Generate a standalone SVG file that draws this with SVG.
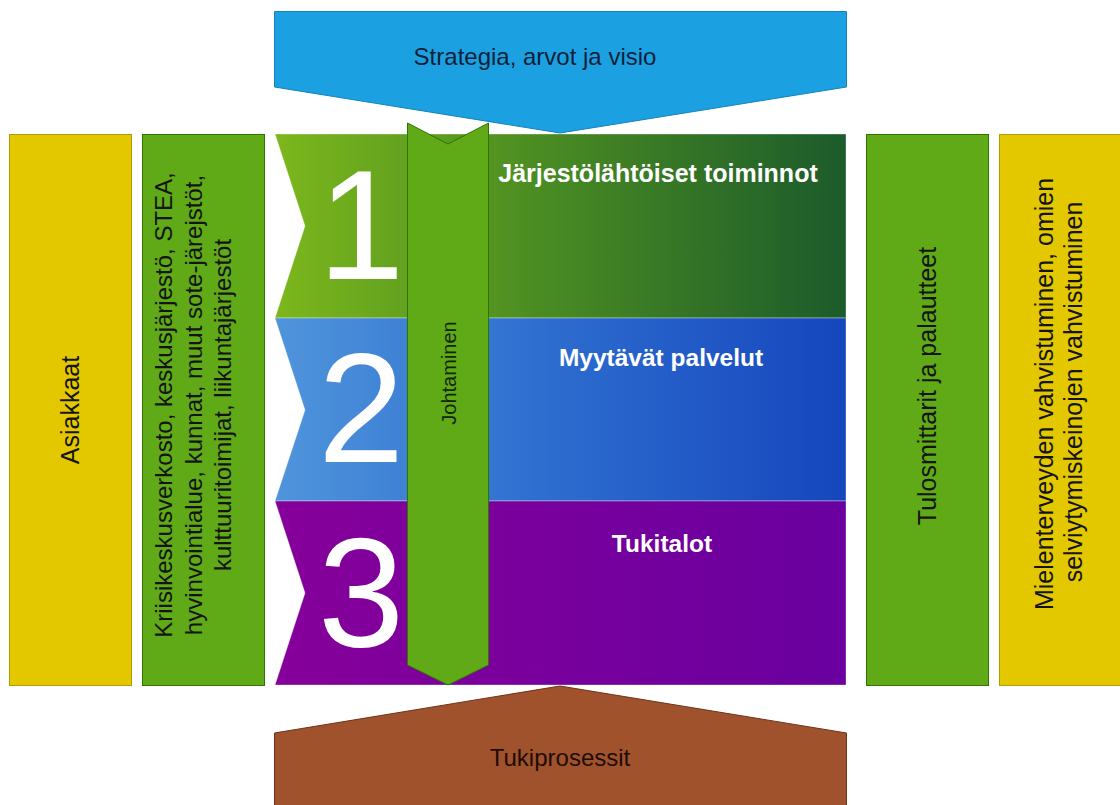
<svg xmlns="http://www.w3.org/2000/svg" width="1120" height="805" viewBox="0 0 1120 805">
  <defs>
    <linearGradient id="g1" x1="0" y1="0" x2="1" y2="0">
      <stop offset="0" stop-color="#7cb71c"/>
      <stop offset="0.45" stop-color="#4b8d22"/>
      <stop offset="1" stop-color="#1c5b2b"/>
    </linearGradient>
    <linearGradient id="g2" x1="0" y1="0" x2="1" y2="0">
      <stop offset="0" stop-color="#4f95db"/>
      <stop offset="0.45" stop-color="#2f6fd0"/>
      <stop offset="1" stop-color="#1546bd"/>
    </linearGradient>
    <linearGradient id="g3" x1="0" y1="0" x2="1" y2="0">
      <stop offset="0" stop-color="#86009a"/>
      <stop offset="1" stop-color="#69009f"/>
    </linearGradient>
    <style>
      .yel { fill: #e3c800; stroke: #b39b00; stroke-width: 1; }
      .grn { fill: #60a917; stroke: #2d7600; stroke-width: 1; }
      .band { stroke: #ffffff; stroke-opacity: 0.35; stroke-width: 1; }
      .lbl { font-family: "Liberation Sans", Arial, sans-serif; font-size: 25px; fill: #141414; text-anchor: middle; }
      .num { font-family: "Liberation Sans", Arial, sans-serif; font-size: 155px; fill: #ffffff; text-anchor: middle; }
      .title { font-family: "Liberation Sans", Arial, sans-serif; font-size: 24.5px; font-weight: bold; fill: #ffffff; text-anchor: middle; }
    </style>
  </defs>

  <rect width="1120" height="805" fill="#ffffff"/>

  <!-- left columns -->
  <g id="asiakkaat">
    <rect class="yel" x="9.5" y="134.5" width="122" height="551"/>
    <text class="lbl" transform="translate(79,410) rotate(-90)">Asiakkaat</text>
  </g>
  <g id="kumppanit">
    <rect class="grn" x="142.5" y="134.5" width="122" height="551"/>
    <text class="lbl" style="font-size:24px" transform="translate(172,405) rotate(-90)">Kriisikeskusverkosto, keskusjärjestö, STEA,</text>
    <text class="lbl" style="font-size:24px" transform="translate(202,405) rotate(-90)">hyvinvointialue, kunnat, muut sote-järejstöt,</text>
    <text class="lbl" style="font-size:24px" transform="translate(231,405) rotate(-90)">kulttuuritoimijat, liikuntajärjestöt</text>
  </g>

  <!-- central bands -->
  <g id="toiminnot">
    <polygon class="band" fill="url(#g1)" points="275,134 846,134 846,318 275,318 305,226"/>
    <text class="num" x="361" y="279">1</text>
    <text class="title" x="658" y="182" style="font-size:25px">Järjestölähtöiset toiminnot</text>
  </g>
  <g id="palvelut">
    <polygon class="band" fill="url(#g2)" points="275,318 846,318 846,501 275,501 305,410"/>
    <text class="num" x="361" y="462">2</text>
    <text class="title" x="661" y="366">Myytävät palvelut</text>
  </g>
  <g id="tukitalot">
    <polygon class="band" fill="url(#g3)" points="275,501 846,501 846,685 275,685 305,593"/>
    <text class="num" x="361" y="646">3</text>
    <text class="title" x="662" y="552">Tukitalot</text>
  </g>

  <!-- top and bottom arrows -->
  <g id="strategia">
    <polygon fill="#1ba1e2" stroke="#1283bd" stroke-width="1" points="274.5,11.5 846.5,11.5 846.5,87 560,133 274.5,87"/>
    <text class="lbl" x="535" y="65" style="font-size:24px;fill:#0f2138">Strategia, arvot ja visio</text>
  </g>
  <g id="tukiprosessit">
    <polygon fill="#a0522d" stroke="#6d3218" stroke-width="1" points="274.5,733 560,686 846.5,733 846.5,810 274.5,810"/>
    <text class="lbl" x="560" y="766" style="font-size:24px;fill:#1e0c05">Tukiprosessit</text>
  </g>

  <g id="johtaminen">
    <polygon class="grn" points="407.5,123 448,144 488.5,123 488.5,665 448,685 407.5,665"/>
    <text class="lbl" transform="translate(456,373) rotate(-90)" style="font-size:20px;fill:#13260a">Johtaminen</text>
  </g>

  <!-- right columns -->
  <g id="tulosmittarit">
    <rect class="grn" x="866.5" y="134.5" width="122" height="551"/>
    <text class="lbl" transform="translate(936,386) rotate(-90)">Tulosmittarit ja palautteet</text>
  </g>
  <g id="vaikutukset">
    <rect class="yel" x="999.5" y="134.5" width="121" height="551"/>
    <text class="lbl" transform="translate(1053,394) rotate(-90)">Mielenterveyden vahvistuminen, omien</text>
    <text class="lbl" transform="translate(1082,392) rotate(-90)">selviytymiskeinojen vahvistuminen</text>
  </g>

  <g id="connectors"/>
</svg>
